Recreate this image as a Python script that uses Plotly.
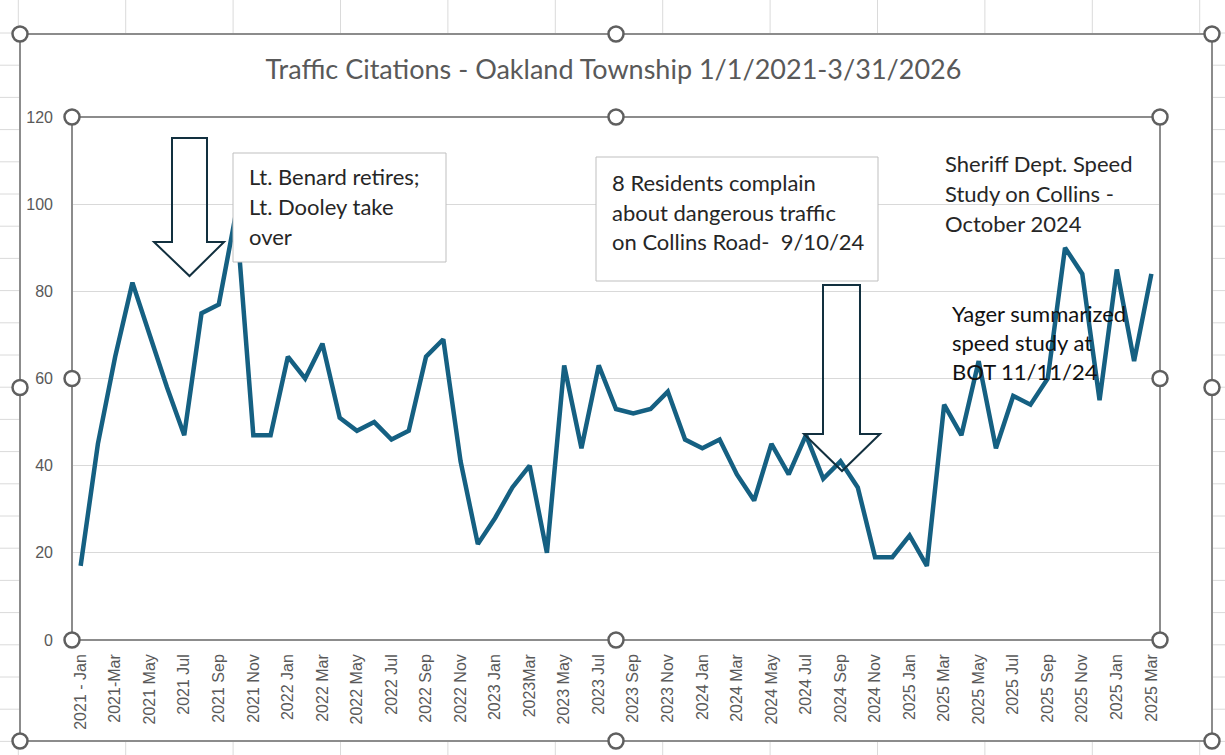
import plotly.graph_objects as go

# ---------------- data ----------------
months = [
    "2021-01", "2021-02", "2021-03", "2021-04", "2021-05", "2021-06", "2021-07", "2021-08", "2021-09", "2021-10", "2021-11", "2021-12",
    "2022-01", "2022-02", "2022-03", "2022-04", "2022-05", "2022-06", "2022-07", "2022-08", "2022-09", "2022-10", "2022-11", "2022-12",
    "2023-01", "2023-02", "2023-03", "2023-04", "2023-05", "2023-06", "2023-07", "2023-08", "2023-09", "2023-10", "2023-11", "2023-12",
    "2024-01", "2024-02", "2024-03", "2024-04", "2024-05", "2024-06", "2024-07", "2024-08", "2024-09", "2024-10", "2024-11", "2024-12",
    "2025-01", "2025-02", "2025-03", "2025-04", "2025-05", "2025-06", "2025-07", "2025-08", "2025-09", "2025-10", "2025-11", "2025-12",
    "2026-01", "2026-02", "2026-03",
]
citations = [
    17, 45, 65, 82, 70, 58, 47, 75, 77, 98, 47, 47,
    65, 60, 68, 51, 48, 50, 46, 48, 65, 69, 41, 22,
    28, 35, 40, 20, 63, 44, 63, 53, 52, 53, 57, 46,
    44, 46, 38, 32, 45, 38, 47, 37, 41, 35, 19, 19,
    24, 17, 54, 47, 64, 44, 56, 54, 60, 90, 84, 55,
    85, 64, 84,
]
tick_labels = [
    "2021 - Jan", "2021-Mar", "2021 May", "2021 Jul", "2021 Sep", "2021 Nov",
    "2022 Jan", "2022 Mar", "2022 May", "2022 Jul", "2022 Sep", "2022 Nov",
    "2023 Jan", "2023Mar", "2023 May", "2023 Jul", "2023 Sep", "2023 Nov",
    "2024 Jan", "2024 Mar", "2024 May", "2024 Jul", "2024 Sep", "2024 Nov",
    "2025 Jan", "2025 Mar", "2025 May", "2025 Jul", "2025 Sep", "2025 Nov",
    "2025 Jan", "2025 Mar",
]
title_text = "Traffic Citations - Oakland Township 1/1/2021-3/31/2026"
note_benard = ["Lt. Benard retires;", "Lt. Dooley take", "over"]
note_residents = ["8 Residents complain", "about dangerous traffic", "on Collins Road-\u00a0 9/10/24"]
note_sheriff = ["Sheriff Dept. Speed", "Study on Collins -", "October 2024"]
note_yager = ["Yager summarized", "speed study at", "BOT 11/11/24"]

# ---------------- geometry helpers (pixel -> paper) ----------------
W, H = 1225, 755
PL, PR, PT, PB = 72, 1160, 117, 640


def fx(x):
    return (x - PL) / (PR - PL)


def fy(y):
    return (PB - y) / (PB - PT)


LINE_COLOR = "#156082"
AXIS_TEXT = "#595959"
FRAME = "#8C8C8C"
HANDLE = "#5F5F5F"
SHEET_GRID = "#DADADA"
TXT_FONT = "Lato"

fig = go.Figure()
fig.add_trace(go.Scatter(
    x=months, y=citations, mode="lines",
    line=dict(color=LINE_COLOR, width=4.5),
    hoverinfo="x+y", showlegend=False,
))

shapes = []

# spreadsheet cell grid visible outside the chart frame
OX0, OY0, OX1, OY1 = 20, 34, 1212, 741
col_x = [18.3 + 107.4 * k for k in range(12)]
row_y = [33 + 32.2 * k for k in range(23)]
for cx in col_x:
    shapes.append(dict(type="line", xref="paper", yref="paper", x0=fx(cx), x1=fx(cx), y0=fy(0), y1=fy(OY0),
                       line=dict(color=SHEET_GRID, width=1), layer="below"))
    shapes.append(dict(type="line", xref="paper", yref="paper", x0=fx(cx), x1=fx(cx), y0=fy(OY1), y1=fy(H),
                       line=dict(color=SHEET_GRID, width=1), layer="below"))
for ry in row_y:
    shapes.append(dict(type="line", xref="paper", yref="paper", x0=fx(0), x1=fx(OX0), y0=fy(ry), y1=fy(ry),
                       line=dict(color=SHEET_GRID, width=1), layer="below"))
    shapes.append(dict(type="line", xref="paper", yref="paper", x0=fx(OX1), x1=fx(W), y0=fy(ry), y1=fy(ry),
                       line=dict(color=SHEET_GRID, width=1), layer="below"))

# chart-area frame and plot-area frame (selection outlines)
shapes.append(dict(type="rect", xref="paper", yref="paper", x0=fx(OX0), x1=fx(OX1), y0=fy(OY0), y1=fy(OY1),
                   line=dict(color=FRAME, width=2), fillcolor="rgba(0,0,0,0)", layer="above"))
shapes.append(dict(type="rect", xref="paper", yref="paper", x0=0, x1=1, y0=0, y1=1,
                   line=dict(color=FRAME, width=2), fillcolor="rgba(0,0,0,0)", layer="above"))

# annotation boxes (cover the line)
shapes.append(dict(type="rect", xref="paper", yref="paper", x0=fx(233), x1=fx(446), y0=fy(153), y1=fy(262),
                   line=dict(color="#BFBFBF", width=1), fillcolor="white", layer="above"))
shapes.append(dict(type="rect", xref="paper", yref="paper", x0=fx(596), x1=fx(878), y0=fy(157), y1=fy(281),
                   line=dict(color="#BFBFBF", width=1), fillcolor="white", layer="above"))


def down_arrow(xl, xr, top, head_y, hl, hr, tip_x, tip_y):
    pts = [(xl, top), (xr, top), (xr, head_y), (hr, head_y), (tip_x, tip_y), (hl, head_y), (xl, head_y)]
    d = "M " + " L ".join(f"{fx(a):.5f},{fy(b):.5f}" for a, b in pts) + " Z"
    return dict(type="path", xref="paper", yref="paper", path=d,
                line=dict(color="#12303F", width=2), fillcolor="rgba(0,0,0,0)", layer="above")


shapes.append(down_arrow(172, 207, 138, 242, 154, 224, 189.5, 276))
shapes.append(down_arrow(823, 860, 285, 434, 804, 880, 842, 471))

# selection handles
R = 7.5
handles = [(OX0, OY0), ((OX0 + OX1) / 2, OY0), (OX1, OY0), (OX0, (OY0 + OY1) / 2), (OX1, (OY0 + OY1) / 2),
           (OX0, OY1), ((OX0 + OX1) / 2, OY1), (OX1, OY1),
           (PL, PT), ((PL + PR) / 2, PT), (PR, PT), (PL, (PT + PB) / 2), (PR, (PT + PB) / 2),
           (PL, PB), ((PL + PR) / 2, PB), (PR, PB)]
for hx, hy in handles:
    shapes.append(dict(type="circle", xref="paper", yref="paper", x0=fx(hx - R), x1=fx(hx + R),
                       y0=fy(hy + R), y1=fy(hy - R), line=dict(color=HANDLE, width=2.5),
                       fillcolor="white", layer="above"))

annotations = []


def add_lines(lines, x_left, y_centers, color, size):
    for text, yc in zip(lines, y_centers):
        annotations.append(dict(text=text, xref="paper", yref="paper", x=fx(x_left), y=fy(yc),
                                xanchor="left", yanchor="middle", showarrow=False,
                                font=dict(family=TXT_FONT, size=size, color=color)))


add_lines(note_benard, 247, [176, 206, 236], "#262626", 22)
add_lines(note_residents, 610, [182, 212, 241], "#262626", 22)
add_lines(note_sheriff, 943, [163, 193, 223], "#262626", 22)
add_lines(note_yager, 950, [313, 342, 371], "#111111", 22)

fig.update_layout(
    width=W, height=H, autosize=False,
    margin=dict(l=PL, r=W - PR, t=PT, b=H - PB, pad=0),
    paper_bgcolor="white", plot_bgcolor="white",
    title=dict(text=title_text, x=613.5 / W, xref="container", xanchor="center",
               y=1 - 70 / H, yref="container", yanchor="middle",
               font=dict(family=TXT_FONT, size=27, color=AXIS_TEXT)),
    xaxis=dict(type="category", categoryorder="array", categoryarray=months,
               range=[-0.5, len(months) - 0.5],
               tickmode="array", tickvals=months[::2], ticktext=tick_labels,
               tickangle=-90, showgrid=False, zeroline=False, showline=False, ticks="",
               ticklabelstandoff=10,
               tickfont=dict(family="Liberation Sans, Arial", size=16, color=AXIS_TEXT)),
    yaxis=dict(range=[0, 120], tickmode="linear", tick0=0, dtick=20,
               showgrid=True, gridcolor="#D9D9D9", gridwidth=1, zeroline=False, showline=False, ticks="",
               ticklabelstandoff=18,
               tickfont=dict(family="Liberation Sans, Arial", size=16, color=AXIS_TEXT)),
    shapes=shapes, annotations=annotations,
    hovermode="closest",
)

fig.write_html("out.html", config={"displayModeBar": False},
               post_script="document.body.style.margin='0';")
